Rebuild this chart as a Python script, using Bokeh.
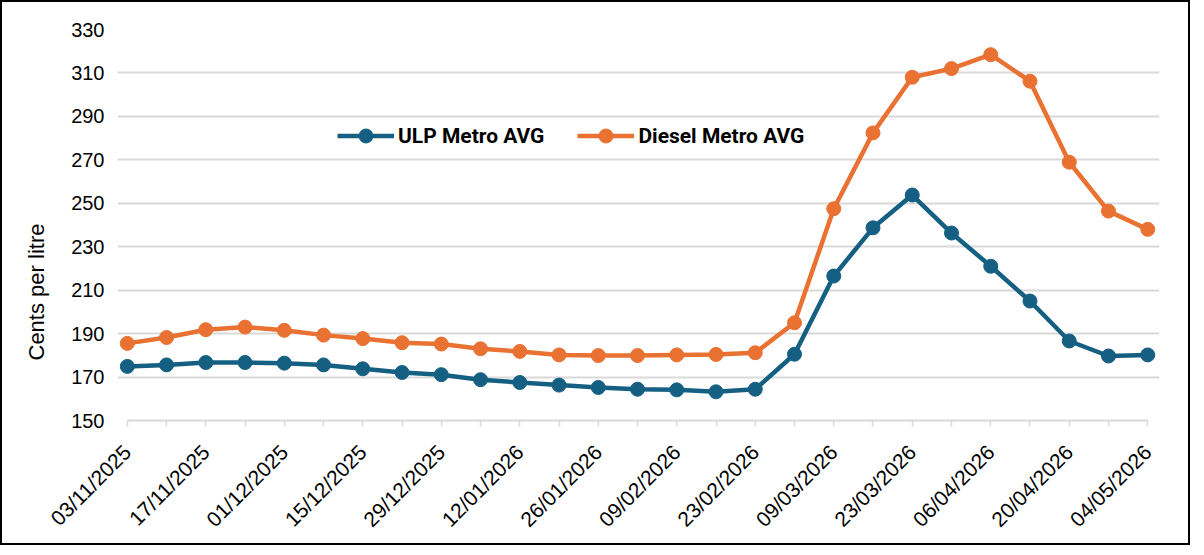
from bokeh.plotting import figure
from bokeh.models import FixedTicker, Range1d, Legend, LegendItem, Title
from bokeh.embed import file_html
from bokeh.resources import INLINE

dates = ["03/11/2025", "10/11/2025", "17/11/2025", "24/11/2025", "01/12/2025", "08/12/2025",
         "15/12/2025", "22/12/2025", "29/12/2025", "05/01/2026", "12/01/2026", "19/01/2026",
         "26/01/2026", "02/02/2026", "09/02/2026", "16/02/2026", "23/02/2026", "02/03/2026",
         "09/03/2026", "16/03/2026", "23/03/2026", "30/03/2026", "06/04/2026", "13/04/2026",
         "20/04/2026", "27/04/2026", "04/05/2026"]
ulp = [174.9, 175.6, 176.7, 176.7, 176.4, 175.6, 173.8, 172.1, 171.1, 168.8, 167.5, 166.3,
       165.2, 164.4, 164.1, 163.2, 164.4, 180.5, 216.5, 238.7, 253.8, 236.3, 221.0, 205.0,
       186.6, 179.7, 180.2]
diesel = [185.5, 188.2, 191.8, 193.0, 191.5, 189.3, 187.7, 185.8, 185.2, 183.0, 181.8, 180.2,
          179.9, 179.9, 180.2, 180.4, 181.2, 195.0, 247.5, 282.4, 308.0, 312.0, 318.4, 306.2,
          268.9, 246.4, 238.0]
y_ticks = [150, 170, 190, 210, 230, 250, 270, 290, 310, 330]
y_title = "Cents per litre"

ULP_COLOR = "#156082"
DIESEL_COLOR = "#E97132"
GRID = "#d9d9d9"

xs = list(range(len(dates)))

p = figure(width=1190, height=545, output_backend="svg", toolbar_location=None,
           x_range=Range1d(-0.25, len(dates) - 1 + 0.3), y_range=Range1d(150, 330),
           min_border_left=115, min_border_right=33, min_border_top=27, min_border_bottom=127)
p.styles = {"border": "2px solid black"}
p.outline_line_color = None
p.background_fill_color = "white"

l1 = p.line(xs, ulp, line_color=ULP_COLOR, line_width=4.5)
c1 = p.scatter(xs, ulp, size=14, fill_color=ULP_COLOR, line_color=ULP_COLOR)
l2 = p.line(xs, diesel, line_color=DIESEL_COLOR, line_width=4.5)
c2 = p.scatter(xs, diesel, size=14, fill_color=DIESEL_COLOR, line_color=DIESEL_COLOR)

legend = Legend(items=[LegendItem(label="ULP Metro AVG", renderers=[l1, c1]),
                       LegendItem(label="Diesel Metro AVG", renderers=[l2, c2])],
                orientation="horizontal", location=(220, 267))
legend.border_line_color = None
legend.background_fill_alpha = 0
legend.padding = 0
legend.margin = 0
legend.spacing = 33
legend.glyph_width = 57
legend.glyph_height = 35
legend.label_height = 35
legend.label_standoff = 4
legend.label_text_font = "Roboto"
legend.label_text_font_style = "bold"
legend.label_text_font_size = "21px"
legend.label_text_color = "black"
p.add_layout(legend, "center")

# x axis
p.xaxis.ticker = FixedTicker(ticks=xs)
p.xaxis.major_label_overrides = {i: (d if i % 2 == 0 else "") for i, d in enumerate(dates)}
p.xaxis.major_label_orientation = 0.785398
p.xaxis.bounds = (0, len(dates) - 1)
p.xaxis.axis_line_color = GRID
p.xaxis.axis_line_width = 2
p.xaxis.major_tick_line_color = GRID
p.xaxis.major_tick_line_width = 1.5
p.xaxis.major_tick_out = 6
p.xaxis.major_tick_in = 0
p.xaxis.minor_tick_line_color = None
p.xaxis.major_label_text_font = "Liberation Sans"
p.xaxis.major_label_text_font_size = "21px"
p.xaxis.major_label_text_color = "black"
p.xaxis.major_label_standoff = 22

# y axis
p.yaxis.ticker = FixedTicker(ticks=y_ticks)
p.yaxis.axis_line_color = None
p.yaxis.major_tick_line_color = None
p.yaxis.minor_tick_line_color = None
p.yaxis.major_label_text_font = "Liberation Sans"
p.yaxis.major_label_text_font_size = "20px"
p.yaxis.major_label_text_color = "black"
p.yaxis.major_label_standoff = 7

# y axis title, sitting lower than the centre as in the original
p.add_layout(Title(text=y_title, align="left", offset=60, standoff=39,
                   text_font="Liberation Sans", text_font_size="22px",
                   text_font_style="normal", text_color="black"), "left")

p.xgrid.grid_line_color = None
p.ygrid.grid_line_color = GRID
p.ygrid.grid_line_width = 2
p.ygrid.bounds = (0, len(dates) - 1 + 0.13)

open("out.html", "w").write(file_html(p, INLINE))
